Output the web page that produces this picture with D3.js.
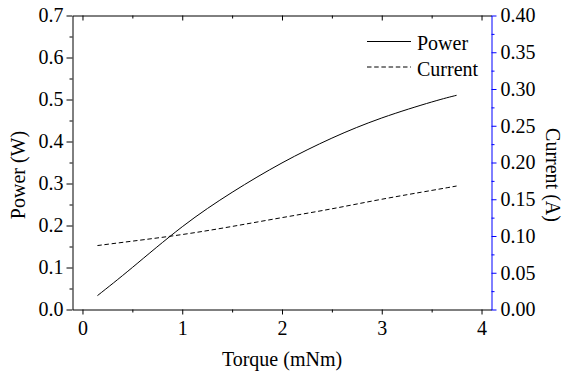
<!DOCTYPE html>
<html>
<head>
<meta charset="utf-8">
<script src="https://cdn.jsdelivr.net/npm/d3@7"></script>
<style>
  body { margin: 0; background: #fff; }
  svg { display: block; }
</style>
</head>
<body>
<div id="chart"></div>
<script>
// torque values (mNm)
const torque = [0.15, 0.5, 1.0, 1.5, 2.0, 2.5, 3.0, 3.5, 3.75];
// power (W), left axis
const power = [0.033, 0.100, 0.197, 0.279, 0.349, 0.408, 0.456, 0.494, 0.510];
// current (A), right axis
const current = [0.087, 0.093, 0.102, 0.113, 0.125, 0.137, 0.150, 0.162, 0.168];

const xTicks = [0, 1, 2, 3, 4];
const yTicks = [0, 0.1, 0.2, 0.3, 0.4, 0.5, 0.6, 0.7];
const y2Ticks = [0, 0.05, 0.1, 0.15, 0.2, 0.25, 0.3, 0.35, 0.4];
const legendNames = ['Power', 'Current'];

const font = '"Liberation Serif", "Times New Roman", "DejaVu Serif", serif';
const fontSize = 20;
const dash = '4.5,2.7';
const width = 563, height = 376;
const margin = { top: 15.5, right: 71.5, bottom: 66.5, left: 72.5 };
const w = width - margin.left - margin.right;
const h = height - margin.top - margin.bottom;

const svg = d3.select('#chart').append('svg')
  .attr('width', width)
  .attr('height', height)
  .attr('font-family', font);

const x = d3.scaleLinear().domain([-0.1, 4.1]).range([0, w]);
const y = d3.scaleLinear().domain([0, 0.7]).range([h, 0]);
const y2 = d3.scaleLinear().domain([0, 0.4]).range([h, 0]);

const chart = svg.append('g')
  .attr('transform', `translate(${margin.left}, ${margin.top})`);

// minor ticks
const xMinor = d3.range(0.5, 4, 1);
const yMinor = d3.range(0.05, 0.7, 0.1);
const y2Minor = d3.range(0.025, 0.4, 0.05);

function styleAxis(g, color) {
  g.attr('font-family', font).attr('font-size', fontSize);
  g.selectAll('text').attr('fill', '#000');
  g.selectAll('path, line').attr('stroke', color || '#000');
  return g;
}

// bottom axis
styleAxis(chart.append('g')
  .attr('transform', `translate(0, ${h})`)
  .call(d3.axisBottom(x).tickValues(xTicks).tickSize(5).tickPadding(6).tickSizeOuter(0).tickFormat(d3.format('d'))));
styleAxis(chart.append('g')
  .attr('transform', `translate(0, ${h})`)
  .call(d3.axisBottom(x).tickValues(xMinor).tickSize(3).tickSizeOuter(0).tickFormat('')))
  .select('.domain').remove();

// top axis, ticks pointing inward
styleAxis(chart.append('g')
  .call(d3.axisBottom(x).tickValues(xTicks).tickSize(5).tickSizeOuter(0).tickFormat('')));
styleAxis(chart.append('g')
  .call(d3.axisBottom(x).tickValues(xMinor).tickSize(3).tickSizeOuter(0).tickFormat('')))
  .select('.domain').remove();

// left axis
styleAxis(chart.append('g')
  .call(d3.axisLeft(y).tickValues(yTicks).tickSize(6).tickPadding(3).tickSizeOuter(0).tickFormat(d3.format('.1f'))));
styleAxis(chart.append('g')
  .call(d3.axisLeft(y).tickValues(yMinor).tickSize(3).tickSizeOuter(0).tickFormat('')))
  .select('.domain').remove();

// right axis (blue)
styleAxis(chart.append('g')
  .attr('transform', `translate(${w}, 0)`)
  .call(d3.axisRight(y2).tickValues(y2Ticks).tickSize(5).tickPadding(4).tickSizeOuter(0).tickFormat(d3.format('.2f'))), '#0000ff');
styleAxis(chart.append('g')
  .attr('transform', `translate(${w}, 0)`)
  .call(d3.axisRight(y2).tickValues(y2Minor).tickSize(3).tickSizeOuter(0).tickFormat('')), '#0000ff')
  .select('.domain').remove();

// lines
const powerLine = d3.line()
  .x((d, i) => x(torque[i]))
  .y(d => y(d))
  .curve(d3.curveNatural);
const currentLine = d3.line()
  .x((d, i) => x(torque[i]))
  .y(d => y2(d))
  .curve(d3.curveNatural);

chart.append('path')
  .datum(power)
  .attr('fill', 'none')
  .attr('stroke', '#000')
  .attr('stroke-width', 1)
  .attr('d', powerLine);

chart.append('path')
  .datum(current)
  .attr('fill', 'none')
  .attr('stroke', '#000')
  .attr('stroke-width', 1)
  .attr('stroke-dasharray', dash)
  .attr('d', currentLine);

// legend
const legend = svg.append('g').attr('transform', 'translate(367, 41.5)');
legendNames.forEach((name, i) => {
  const g = legend.append('g').attr('transform', `translate(0, ${i * 25.5})`);
  g.append('line')
    .attr('x1', 0).attr('x2', 44)
    .attr('stroke', '#000')
    .attr('stroke-dasharray', i === 1 ? dash : null);
  g.append('text')
    .attr('x', 50)
    .attr('y', 8.5)
    .attr('font-size', fontSize)
    .text(name);
});

// axis titles
svg.append('text')
  .attr('text-anchor', 'middle')
  .attr('font-size', fontSize)
  .attr('transform', 'translate(25, 175) rotate(-90)')
  .text('Power (W)');

svg.append('text')
  .attr('text-anchor', 'middle')
  .attr('font-size', fontSize)
  .attr('transform', 'translate(546, 175) rotate(90)')
  .text('Current (A)');

svg.append('text')
  .attr('text-anchor', 'middle')
  .attr('font-size', fontSize)
  .attr('x', 282)
  .attr('y', 366)
  .text('Torque (mNm)');
</script>
</body>
</html>
